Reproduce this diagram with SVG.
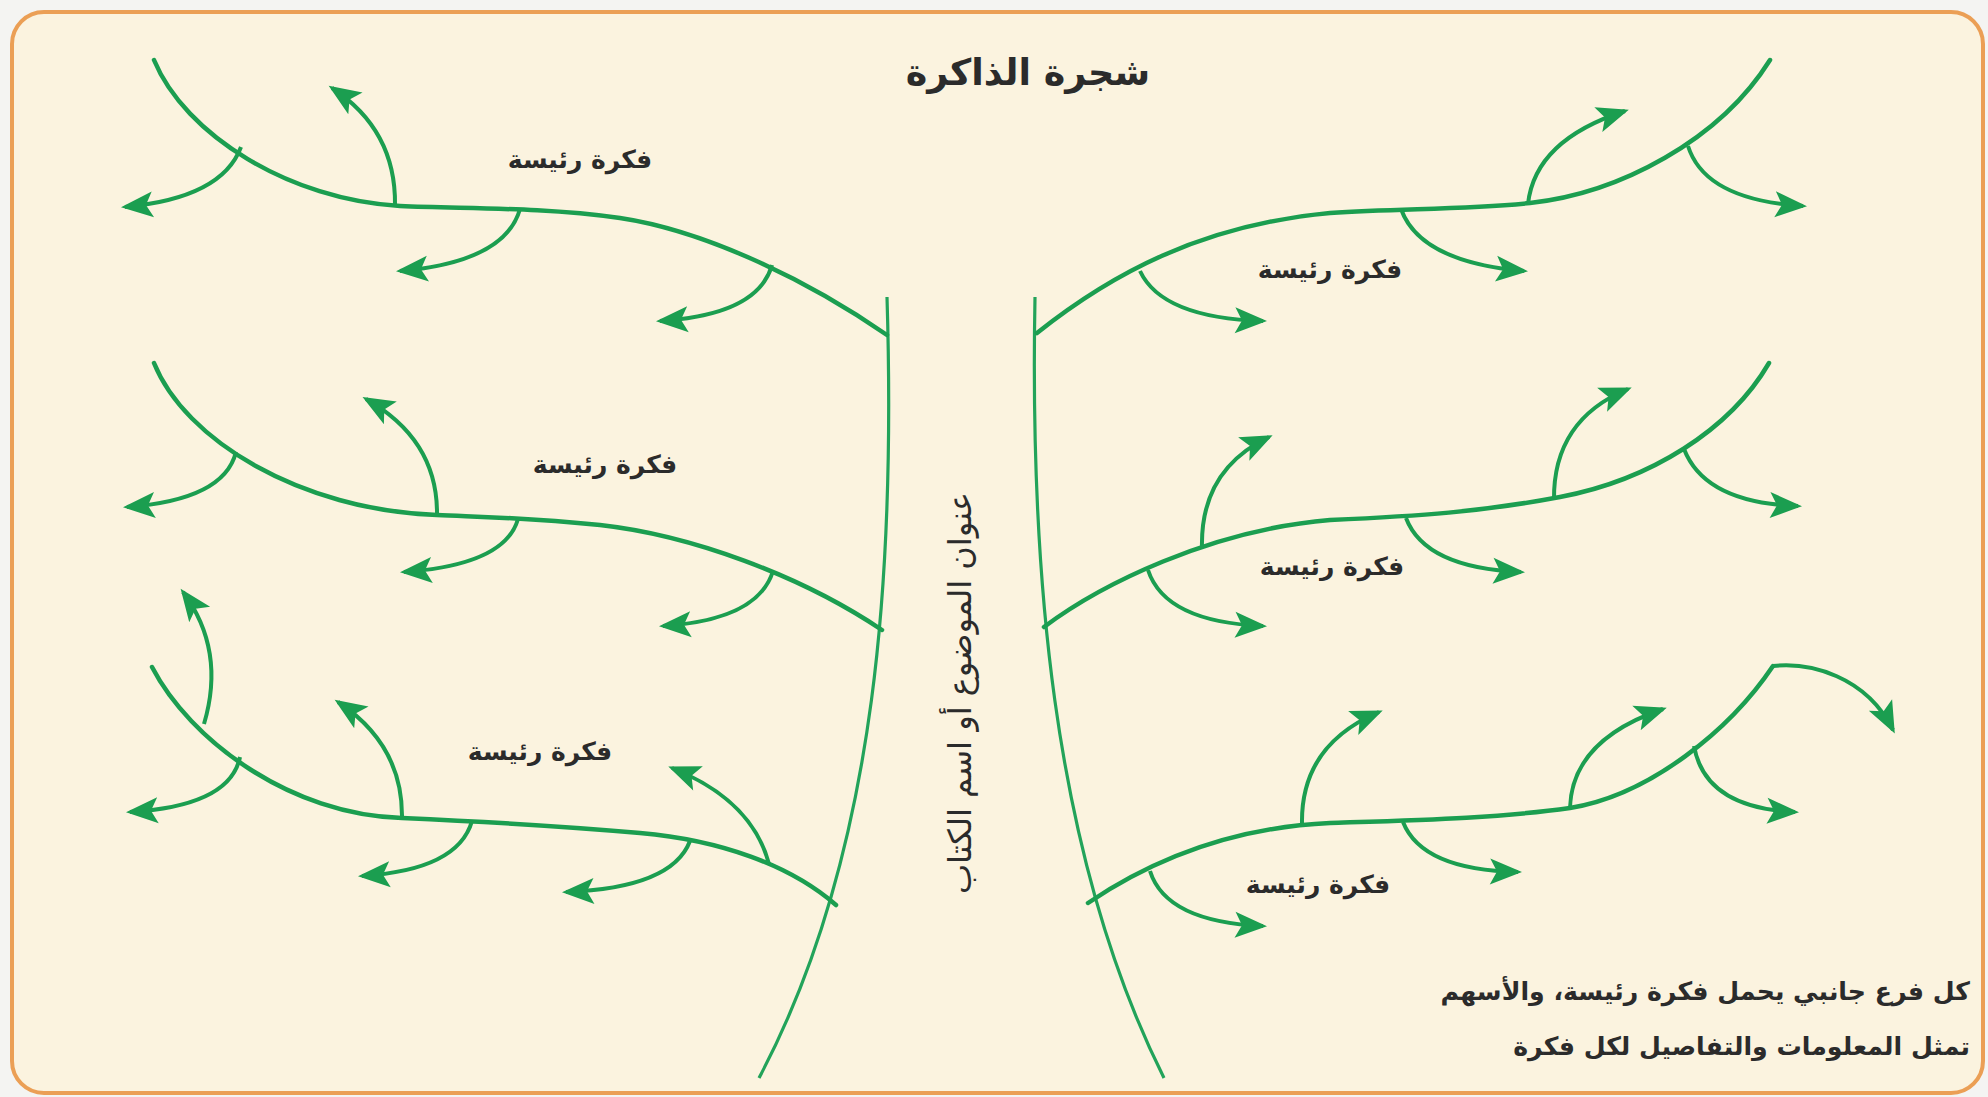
<svg xmlns="http://www.w3.org/2000/svg" width="1988" height="1097" viewBox="0 0 1988 1097">
<defs>
<style>
.main{fill:none;stroke:#1b9e50;stroke-width:4.5;stroke-linecap:round;stroke-linejoin:miter}
.sub{fill:none;stroke:#1b9e50;stroke-width:4;stroke-linecap:butt;marker-end:url(#ah)}
.trunk{fill:none;stroke:#22a35a;stroke-width:3.2}
.lbl{font-family:"DejaVu Sans",sans-serif;font-weight:bold;font-size:25px;fill:#2b2b2b;text-anchor:middle}
.ttl{font-family:"DejaVu Sans",sans-serif;font-weight:bold;font-size:36.5px;fill:#2b2b2b;text-anchor:middle}
.vt{font-family:"DejaVu Sans",sans-serif;font-size:32px;fill:#2b2b2b;text-anchor:middle}
.cap{font-family:"DejaVu Sans",sans-serif;font-weight:bold;font-size:25.2px;fill:#2b2b2b}
</style>
<marker id="ah" viewBox="-36 -16 40 32" refX="-4" refY="0" markerWidth="40" markerHeight="32" markerUnits="userSpaceOnUse" orient="auto">
<path d="M0,0 L-32,-13 L-25,0 L-32,13 Z" fill="#1b9e50"/>
</marker>
</defs>
<rect x="0" y="0" width="1988" height="1097" fill="#f4f4f2"/>
<rect id="frame" x="12" y="12" width="1971" height="1081" rx="32" ry="32" fill="#fbf3df" stroke="#eb9f55" stroke-width="4"/>

<g id="title"><text class="ttl" x="1028" y="85">شجرة الذاكرة</text></g>
<g id="topic"><text class="vt" transform="translate(960,693) rotate(-90)" x="0" y="11">عنوان الموضوع أو اسم الكتاب</text></g>

<g id="label-l1"><text class="lbl" x="580" y="168">فكرة رئيسة</text></g>
<g id="label-l2"><text class="lbl" x="605" y="473">فكرة رئيسة</text></g>
<g id="label-l3"><text class="lbl" x="540" y="760">فكرة رئيسة</text></g>
<g id="label-r1"><text class="lbl" x="1330" y="278">فكرة رئيسة</text></g>
<g id="label-r2"><text class="lbl" x="1332" y="575">فكرة رئيسة</text></g>
<g id="label-r3"><text class="lbl" x="1318" y="893">فكرة رئيسة</text></g>

<g id="caption">
<text class="cap" direction="rtl" x="1970" y="1000">كل فرع جانبي يحمل فكرة رئيسة، والأسهم</text>
<text class="cap" direction="rtl" x="1970" y="1055">تمثل المعلومات والتفاصيل لكل فكرة</text>
</g>

<g id="connectors">
<path class="trunk" d="M887,297 C895,560 880,850 759,1078"/>
<path class="trunk" d="M1035,297 C1030,560 1050,850 1164,1078"/>

<path class="main" d="M154,60 C185,135 290,200 400,206 C470,209 540,207 620,218 C700,230 800,275 887,335"/>
<path class="sub" d="M241,147 Q222,198 125,207"/>
<path class="sub" d="M395,205 Q396,130 332,88"/>
<path class="sub" d="M520,209 Q505,262 400,271"/>
<path class="sub" d="M772,265 Q758,315 660,321"/>

<path class="main" d="M154,363 C185,440 300,510 437,515 C480,517 520,517 600,525 C690,535 800,575 882,630"/>
<path class="sub" d="M236,452 Q224,500 127,507"/>
<path class="sub" d="M437,515 Q438,440 366,399"/>
<path class="sub" d="M518,519 Q505,565 404,572"/>
<path class="sub" d="M773,571 Q758,620 663,626"/>

<path class="main" d="M152,667 C190,740 290,815 402,818 C470,821 560,826 640,833 C720,840 790,865 836,905"/>
<path class="sub" d="M204,724 Q226,650 183,592"/>
<path class="sub" d="M240,757 Q230,806 130,812"/>
<path class="sub" d="M402,818 Q403,745 338,702"/>
<path class="sub" d="M472,821 Q458,870 362,876"/>
<path class="sub" d="M690,841 Q672,888 566,892"/>
<path class="sub" d="M769,864 Q752,800 672,768"/>

<path class="main" d="M1037,333 C1110,275 1200,225 1330,213 C1400,208 1460,210 1530,203 C1620,193 1720,140 1770,60"/>
<path class="sub" d="M1140,271 Q1162,318 1263,321"/>
<path class="sub" d="M1401,209 Q1420,262 1524,271"/>
<path class="sub" d="M1528,204 Q1535,140 1625,111"/>
<path class="sub" d="M1688,146 Q1705,200 1803,206"/>

<path class="main" d="M1044,627 C1100,585 1210,530 1330,520 C1420,516 1480,512 1560,497 C1650,480 1730,430 1769,363"/>
<path class="sub" d="M1148,570 Q1165,622 1263,626"/>
<path class="sub" d="M1202,548 Q1200,470 1269,437"/>
<path class="sub" d="M1406,518 Q1425,568 1521,572"/>
<path class="sub" d="M1554,500 Q1553,420 1628,389"/>
<path class="sub" d="M1684,449 Q1705,503 1798,506"/>

<path class="main" d="M1088,903 C1140,868 1220,828 1330,823 C1420,820 1500,818 1570,808 C1650,795 1730,730 1773,666"/>
<path class="sub" d="M1773,666 C1810,662 1866,676 1893,730"/>
<path class="sub" d="M1150,871 Q1166,922 1263,926"/>
<path class="sub" d="M1302,823 Q1301,745 1379,712"/>
<path class="sub" d="M1403,822 Q1422,870 1518,872"/>
<path class="sub" d="M1570,808 Q1572,740 1663,709"/>
<path class="sub" d="M1694,746 Q1705,808 1795,812"/>
</g>
</svg>
